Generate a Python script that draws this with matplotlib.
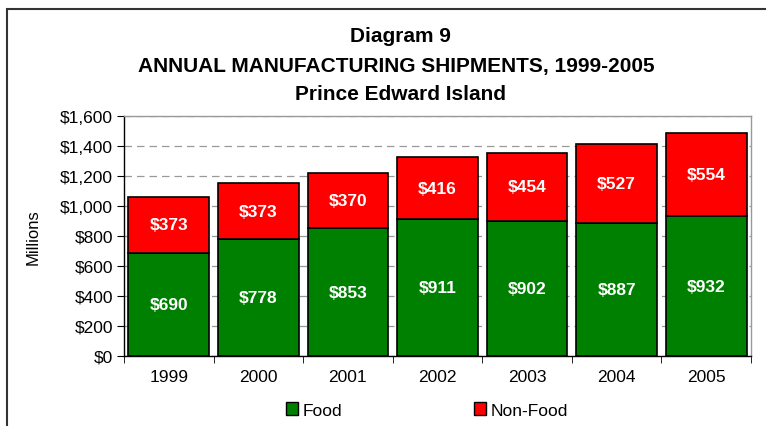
import numpy as np
import matplotlib.pyplot as plt
from matplotlib.patches import Patch, Rectangle
from matplotlib.ticker import FuncFormatter

plt.rcParams['font.family'] = ['Liberation Sans', 'DejaVu Sans']

# donnees (millions de $)
annees = ['1999', '2000', '2001', '2002', '2003', '2004', '2005']
food = [690, 778, 853, 911, 902, 887, 932]
non_food = [373, 373, 370, 416, 454, 527, 554]

vert = '#008000'
rouge = '#ff0000'

fig = plt.figure(figsize=(7.66, 4.27), dpi=100)
ax = fig.add_axes([124 / 766, 1 - 357 / 427, (751 - 124) / 766, (357 - 117) / 427])

x = np.arange(len(annees))
b1 = ax.bar(x, food, width=0.9, color=vert, edgecolor='black', linewidth=1.2, zorder=3)
b2 = ax.bar(x, non_food, width=0.9, bottom=food, color=rouge, edgecolor='black', linewidth=1.2, zorder=3)

# etiquettes des valeurs
for i in range(len(annees)):
    ax.text(x[i], food[i] / 2, '$' + str(food[i]), ha='center', va='center',
            color='white', fontsize=12.5, fontweight='bold', zorder=4)
    ax.text(x[i], food[i] + non_food[i] / 2, '$' + str(non_food[i]), ha='center', va='center',
            color='white', fontsize=12.5, fontweight='bold', zorder=4)

ax.set_xlim(-0.5, len(annees) - 0.5)
ax.set_ylim(0, 1600)
ax.set_yticks(np.arange(0, 1601, 200))
ax.yaxis.set_major_formatter(FuncFormatter(lambda v, p: '${:,.0f}'.format(v)))
ax.set_xticks(x)
ax.set_xticklabels(annees)
ax.set_xticks(np.arange(-0.5, len(annees), 1), minor=True)
ax.tick_params(axis='x', which='major', length=0, pad=9, labelsize=12.5)
ax.tick_params(axis='x', which='minor', length=5, direction='out', color='black')
ax.tick_params(axis='y', length=5, direction='out', labelsize=12.5, pad=3)
ax.yaxis.grid(True, linestyle=(0, (6, 4)), color='#999999', linewidth=0.9, zorder=0)
ax.set_axisbelow(True)

for s in ['top', 'right']:
    ax.spines[s].set_color('#999999')
    ax.spines[s].set_linewidth(1.0)
for s in ['left', 'bottom']:
    ax.spines[s].set_color('black')
    ax.spines[s].set_linewidth(1.0)

ax.set_ylabel('Millions', fontsize=12)
ax.yaxis.set_label_coords(-0.133, 0.5)

fig.text(400 / 766, 1 - 37 / 427, 'Diagram 9', ha='center', va='center', fontsize=15, fontweight='bold')
fig.text(396 / 766, 1 - 67 / 427, 'ANNUAL MANUFACTURING SHIPMENTS, 1999-2005', ha='center', va='center',
         fontsize=15, fontweight='bold')
fig.text(400 / 766, 1 - 95 / 427, 'Prince Edward Island', ha='center', va='center', fontsize=15,
         fontweight='bold')

handles = [Patch(facecolor=vert, edgecolor='black', label='Food'),
           Patch(facecolor=rouge, edgecolor='black', label='Non-Food')]
fig.legend(handles=handles, loc='center', bbox_to_anchor=(0.557, 0.037), ncol=2, frameon=False,
           fontsize=12.5, handlelength=0.7, handleheight=0.75, handletextpad=0.25, columnspacing=7.6)

# cadre exterieur du graphique
fig.patches.append(Rectangle((7 / 766, -0.2), 1.2, 1.2 - 10 / 427, transform=fig.transFigure,
                             fill=False, edgecolor='#333333', linewidth=1.5))

fig.savefig('out.png', dpi=100)
